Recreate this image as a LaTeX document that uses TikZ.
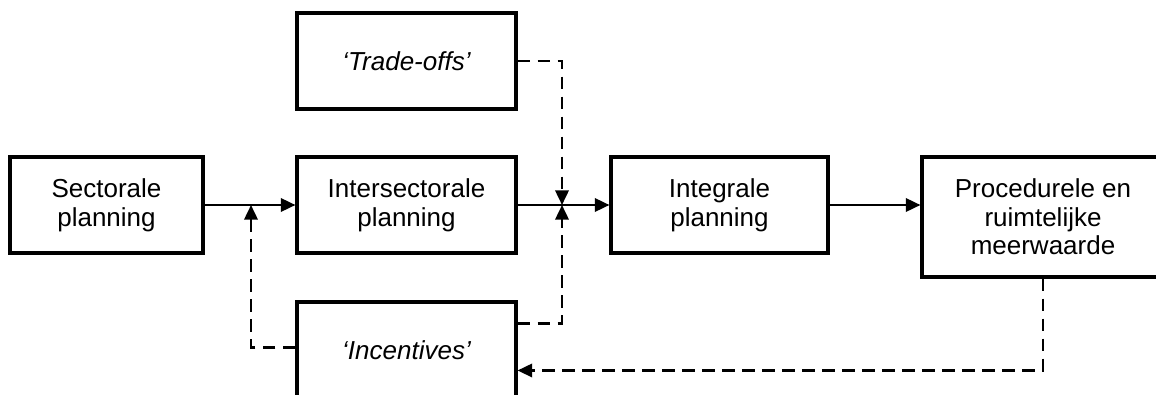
\documentclass[tikz,border=0pt]{standalone}
\usepackage{fontspec}
\setmainfont{Liberation Sans}
\usetikzlibrary{arrows.meta,positioning}

\begin{document}
\begin{tikzpicture}[x=0.75pt,y=0.75pt,
		box/.style={draw,line width=2.3pt,align=center,inner sep=0pt,
			minimum height=72pt,font=\fontsize{19.5}{21.5}\selectfont},
		flow/.style={line width=1.9pt,-{Triangle[length=11pt,width=10pt]}},
		feedback/.style={flow,dash pattern=on 9.5pt off 5.5pt}]
	\useasboundingbox (0,0) rectangle (1156,394);
	% boxes (y counted from the bottom edge)
	\node[box,minimum width=144.75pt] (sect) at (106.5,189) {Sectorale\\planning};
	\node[box,minimum width=164.25pt] (inter) at (406.5,189) {Intersectorale\\planning};
	\node[box,minimum width=164.25pt] (trade) at (406.5,333) {\itshape `Trade-offs'};
	\node[box,minimum width=164.25pt] (incent) at (406.5,44) {\itshape `Incentives'};
	\node[box,minimum width=162.75pt] (integ) at (719.5,189) {Integrale\\planning};
	\node[box,minimum width=181.5pt,minimum height=90pt] (proc) at (1043,177) {Procedurele en\\ruimtelijke\\meerwaarde};
	% junctions on the main line
	\coordinate (ja) at (251,189);
	\coordinate (jb) at (562,189);
	% main line
	\draw[flow] (sect) -- (inter);
	\draw[flow] (inter) -- (integ);
	\draw[flow] (integ.east) -- (integ.east -| proc.west);
	% dashed feedback
	\draw[feedback] (trade.east) -| (jb);
	\draw[feedback] ([shift={(0,-23)}]incent.north east) -| (jb);
	\draw[feedback] ([shift={(0,-47)}]incent.north west) -| (ja);
	\draw[feedback] (proc.south) |- ([shift={(0,-70)}]incent.north east);
\end{tikzpicture}
\end{document}
